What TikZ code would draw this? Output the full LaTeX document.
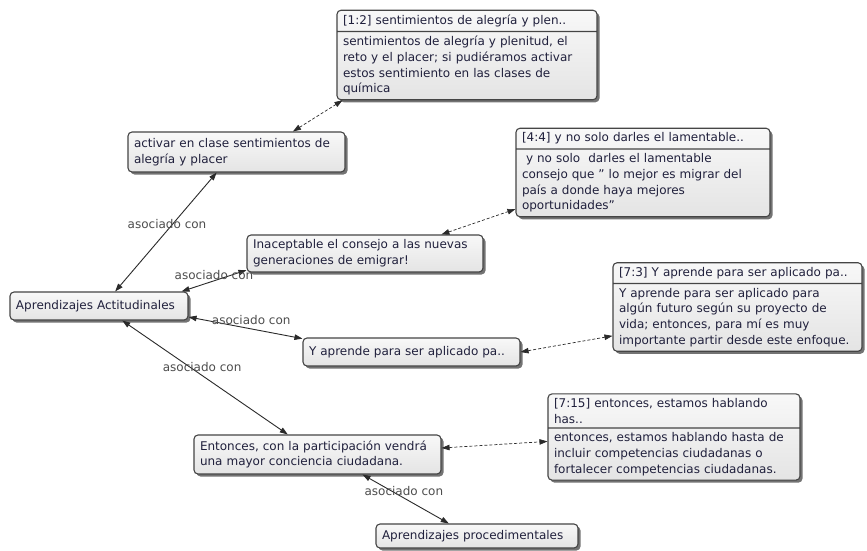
\documentclass[tikz,border=0pt]{standalone}
\usepackage{fontspec}
\setmainfont{DejaVu Sans}
\usetikzlibrary{shapes.multipart,shadows,arrows.meta}

\definecolor{boxline}{HTML}{454545}
\definecolor{boxtop}{HTML}{F8F8F8}
\definecolor{boxbot}{HTML}{E4E4E4}
\definecolor{inktext}{HTML}{20203C}
\definecolor{labelgray}{HTML}{4D4D4D}
\definecolor{edgeink}{HTML}{2A2A2A}

\tikzset{
  box/.style={draw=boxline, line width=1.1pt, rounded corners=4pt,
    top color=boxtop, bottom color=boxbot,
    drop shadow={shadow xshift=2.5pt, shadow yshift=-2.5pt, opacity=0.55, fill=black},
    text=inktext, font=\fontsize{12}{15.7}\selectfont,
    align=left, inner xsep=6pt, inner ysep=4pt},
  quote/.style={box, rectangle split, rectangle split parts=2,
    rectangle split draw splits=true},
  assoc/.style={draw=edgeink, line width=0.9pt,
    {Triangle[length=8pt,width=5.5pt]}-{Triangle[length=8pt,width=5.5pt]}},
  quotelink/.style={assoc, line width=0.7pt, dash pattern=on 3pt off 2pt},
  lbl/.style={text=labelgray, font=\fontsize{12}{14}\selectfont, inner sep=0pt}
}

\begin{document}
\begin{tikzpicture}[x=1pt,y=-1pt]
\fill[white] (0,0) rectangle (867,550);
\useasboundingbox (0,0) rectangle (867,550);

% quotations
\node[quote, text width=248pt] (q1) at (467,55)
  {[1:2] sentimientos de alegría y plen..\nodepart{two}sentimientos de alegría y plenitud, el\\reto y el placer; si pudiéramos activar\\estos sentimiento en las clases de\\química};
\node[quote, text width=242pt] (q4) at (643,172.5)
  {[4:4] y no solo darles el lamentable..\nodepart{two}\ y no solo\ \ darles el lamentable\\consejo que ” lo mejor es migrar del\\país a donde haya mejores\\oportunidades”};
\node[quote, text width=237pt] (q7) at (737.5,307)
  {[7:3] Y aprende para ser aplicado pa..\nodepart{two}Y aprende para ser aplicado para\\algún futuro según su proyecto de\\vida; entonces, para mí es muy\\importante partir desde este enfoque.};
\node[quote, text width=240pt] (q15) at (674,437)
  {[7:15] entonces, estamos hablando\\has..\nodepart{two}entonces, estamos hablando hasta de\\incluir competencias ciudadanas o\\fortalecer competencias ciudadanas.};

% codes
\node[box, text width=205pt, minimum height=40pt] (act) at (236.5,152)
  {activar en clase sentimientos de\\alegría y placer};
\node[box, text width=224pt, minimum height=37pt] (inac) at (365,253.5)
  {Inaceptable el consejo a las nuevas\\generaciones de emigrar!};
\node[box, text width=166pt, minimum height=28pt] (aa) at (99,306)
  {Aprendizajes Actitudinales};
\node[box, text width=205pt, minimum height=28pt] (yap) at (411.5,352)
  {Y aprende para ser aplicado pa..};
\node[box, text width=235pt, minimum height=39pt] (ent) at (317.5,454.5)
  {Entonces, con la participación vendrá\\una mayor conciencia ciudadana.};
\node[box, text width=190pt, minimum height=24pt] (ap) at (477,536)
  {Aprendizajes procedimentales};

% relations between codes
\draw[assoc] (aa.42) -- node[lbl, pos=0.57, xshift=-6pt] {asociado con} (act.226);
\draw[assoc] (aa.10.7) -- node[lbl, pos=0.5, yshift=6pt] {asociado con} (inac.188);
\draw[assoc] (aa.-7) -- node[lbl, pos=0.55, yshift=9pt] {asociado con} (yap.173);
\draw[assoc] (aa.-32) -- node[lbl, pos=0.41, xshift=12pt] {asociado con} (ent.146);
\draw[assoc] (ent.-24) -- node[lbl, pos=0.34, xshift=12pt] {asociado con} (ap.156);

% links from codes to quotations
\draw[quotelink] (act.20) -- (q1.200);
\draw[quotelink] (inac.14) -- (q4.196);
\draw[quotelink] (yap.0) -- (q7.193);
\draw[quotelink] (ent.3) -- (q15.182);
\end{tikzpicture}
\end{document}
